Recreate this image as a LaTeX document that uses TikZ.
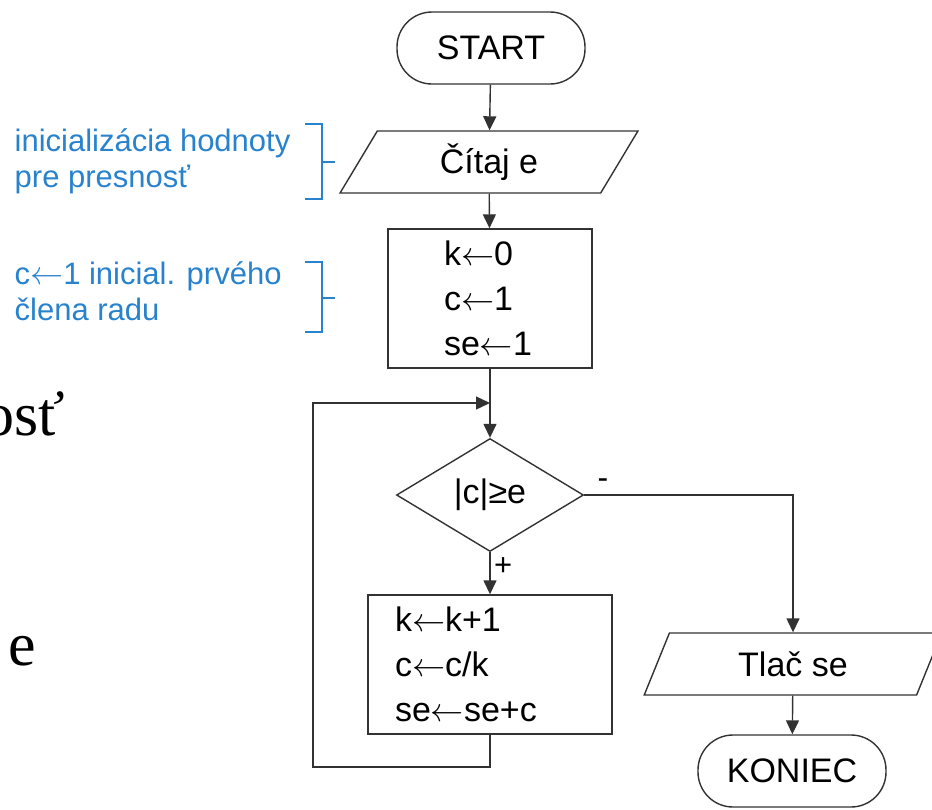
\documentclass[tikz,border=0pt]{standalone}
\usepackage{graphicx}
\usepackage{fontspec}
\setmainfont{Liberation Sans}
\newfontfamily\slidefont{Liberation Serif}
\usetikzlibrary{arrows.meta,positioning,shapes.geometric,calc}
\definecolor{noteblue}{RGB}{40,130,205}
\definecolor{flowline}{RGB}{50,50,50}
\newcommand{\asgn}{\scalebox{1.33}{$\leftarrow$}}

\begin{document}
\begin{tikzpicture}[x=1pt,y=-1pt,>={Triangle[length=14pt,width=13pt]},line width=1.4pt,
  font=\fontsize{34}{45}\selectfont]
\tikzstyle{term}=[draw=flowline,rectangle,rounded corners=35pt,minimum width=188pt,minimum height=72pt,inner sep=0pt]
\tikzstyle{io}=[draw=flowline,trapezium,trapezium left angle=66,trapezium right angle=114,minimum width=298pt,minimum height=62pt,trapezium stretches=true,inner sep=0pt]
\tikzstyle{proc}=[draw=flowline,rectangle,align=left,minimum height=139pt,inner ysep=0pt]
\tikzstyle{cond}=[draw=flowline,diamond,minimum width=187pt,minimum height=113pt,inner sep=0pt]
\tikzstyle{arr}=[->,draw=flowline]
\tikzstyle{note}=[noteblue,align=left,inner sep=0pt,font=\fontsize{31}{36}\selectfont]
\tikzstyle{brace}=[draw=noteblue,line width=1.4pt]
\tikzstyle{slide}=[anchor=base east,inner sep=0pt,font=\slidefont\fontsize{62}{70}\selectfont]
\useasboundingbox (0,0) rectangle (932,809);

% flowchart
\node[term] (start) at (491,48) {START};
\node[io] (read) at (489,162) {Čítaj e};
\node[proc,text width=92pt,inner xsep=56pt] (init) at (490,298.5) {k\asgn0\\c\asgn1\\se\asgn1};
\coordinate (join) at (490,403);
\node[cond] (test) at (490,495) {|c|≥e};
\node[proc,text width=190pt,inner xsep=27pt] (upd) at (490,664.5) {k\asgn k+1\\c\asgn c/k\\se\asgn se+c};
\node[io] (print) at (793,664) {Tlač se};
\node[term] (stop) at (792,771) {KONIEC};

\draw[arr] (start) -- (read);
\draw[arr] (read) -- (init);
\draw[arr] (init) -- (test);
\draw[arr] (test) -- node[right,pos=0.35,font=\fontsize{31}{31}\selectfont] {+} (upd);
\draw[arr] (test.east) -| node[pos=0.045,above=2pt,font=\fontsize{32}{32}\selectfont] {-} (print.north);
\draw[arr] (print) -- (stop);
% back edge of the loop
\coordinate (back) at (313,767);
\draw[arr] (upd.south) |- (back) |- (join);

% side notes
\node[note,anchor=north west] (n1) at (14,128) {inicializácia hodnoty\\pre presnosť};
\node[note,anchor=north west] (n2) at (14,261) {c\asgn1 inicial. prvého\\člena radu};
\draw[brace] (305,124) -- (322,124) -- (322,199) -- (305,199) (322,162) -- (335,162);
\draw[brace] (305,262) -- (322,262) -- (322,332) -- (305,332) (322,298) -- (335,298);

% slide text at the left edge
\node[slide] (w1) at (66,435) {osť};
\node[slide] (w2) at (37,665) {e};
\end{tikzpicture}
\end{document}
